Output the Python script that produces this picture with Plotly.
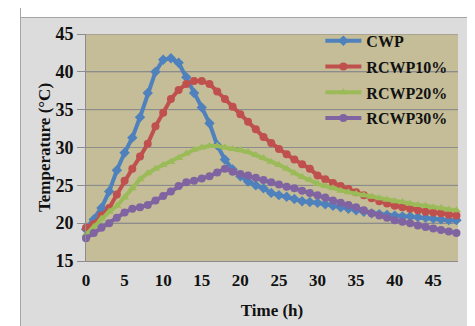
import plotly.graph_objects as go

hours = list(range(0, 49))
x_ticks = [0, 5, 10, 15, 20, 25, 30, 35, 40, 45]
y_ticks = [15, 20, 25, 30, 35, 40, 45]
x_range = [0, 48.2]

cwp = [19.2, 20.5, 22.0, 24.2, 27.0, 29.3, 31.3, 34.0, 37.2, 40.0,
       41.6, 41.8, 41.2, 39.3, 37.2, 35.3, 33.2, 30.3, 28.4, 27.1,
       26.2, 25.5, 25.0, 24.6, 24.0, 23.7, 23.5, 23.2, 22.9, 22.8,
       22.7, 22.5, 22.3, 22.1, 21.9, 21.7, 21.5, 21.3, 21.2, 21.1,
       21.0, 20.9, 20.9, 20.8, 20.7, 20.6, 20.5, 20.4, 20.4]
rcwp10 = [19.4, 19.9, 21.0, 22.0, 23.8, 25.6, 27.2, 28.8, 30.5, 32.8,
          34.6, 36.4, 37.6, 38.4, 38.8, 38.8, 38.4, 37.4, 36.4, 35.4,
          34.4, 33.4, 32.4, 31.4, 30.6, 29.8, 29.1, 28.4, 27.8, 27.2,
          26.3, 25.8, 25.3, 24.9, 24.5, 24.1, 23.7, 23.3, 22.9, 22.6,
          22.3, 22.1, 21.9, 21.7, 21.5, 21.4, 21.3, 21.1, 21.0]
rcwp20 = [18.5, 19.5, 20.6, 21.5, 22.3, 23.4, 24.6, 25.8, 26.6, 27.2,
          27.7, 28.1, 28.6, 29.2, 29.7, 30.0, 30.2, 30.2, 30.0, 29.8,
          29.7, 29.4, 29.0, 28.6, 28.1, 27.7, 27.2, 26.6, 26.1, 25.7,
          25.2, 24.9, 24.6, 24.3, 24.1, 23.9, 23.7, 23.5, 23.3, 23.1,
          22.9, 22.8, 22.6, 22.4, 22.3, 22.1, 22.0, 21.8, 21.7]
rcwp30 = [18.0, 18.7, 19.4, 20.0, 20.7, 21.4, 21.9, 22.1, 22.4, 23.0,
          23.6, 24.2, 24.9, 25.4, 25.6, 25.9, 26.2, 26.7, 27.2, 26.8,
          26.5, 26.3, 26.0, 25.7, 25.4, 25.1, 24.8, 24.6, 24.3, 24.0,
          23.7, 23.4, 23.0, 22.7, 22.4, 22.1, 21.7, 21.3, 21.0, 20.7,
          20.4, 20.2, 20.0, 19.7, 19.5, 19.3, 19.1, 18.9, 18.7]

series = [
    ("CWP", cwp, "#4F81BD", "diamond"),
    ("RCWP10%", rcwp10, "#C0504D", "circle"),
    ("RCWP20%", rcwp20, "#9BBB59", "triangle-up"),
    ("RCWP30%", rcwp30, "#8064A2", "circle"),
]

FONT = "Liberation Serif"
GRID = "#8C8C8C"

fig = go.Figure()

# horizontal gridlines at the y tick values, drawn as a background trace
gx, gy = [], []
for v in y_ticks[1:]:
    gx += [x_range[0], x_range[1], None]
    gy += [v, v, None]
fig.add_trace(go.Scatter(x=gx, y=gy, mode="lines",
                         line=dict(color=GRID, width=1),
                         hoverinfo="skip", showlegend=False))

for i, (name, vals, color, sym) in enumerate(series):
    fig.add_trace(go.Scatter(
        x=hours, y=vals, name=name, mode="lines+markers",
        line=dict(color=color, width=4),
        marker=dict(symbol=sym, size=8, color=color),
        legendgroup=f"g{i}", cliponaxis=False,
    ))

# white outer margin strips (top, left) with the gray chart-area border
fig.add_annotation(xref="paper", yref="paper", x=-0.344, y=1.0705,
                   xanchor="left", yanchor="bottom", text=" ", showarrow=False,
                   width=620, height=60, bgcolor="white",
                   bordercolor="#A6A6A6", borderwidth=1, borderpad=0)
fig.add_annotation(xref="paper", yref="paper", x=-0.1747, y=0.5,
                   xanchor="right", yanchor="middle", text=" ", showarrow=False,
                   width=60, height=520, bgcolor="white",
                   bordercolor="#A6A6A6", borderwidth=1, borderpad=0)

fig.update_layout(
    width=475, height=326,
    margin=dict(l=78, r=25, t=26, b=73),
    paper_bgcolor="#DCDCDC",
    plot_bgcolor="#C4BD97",
    font=dict(family=FONT, size=15, color="#111111"),
    showlegend=True,
    legend=dict(
        x=0.63, y=1.045, xanchor="left", yanchor="top",
        bgcolor="rgba(0,0,0,0)",
        font=dict(family=FONT, size=16, color="#111111", weight="bold"),
        tracegroupgap=2, itemwidth=36,
    ),
    xaxis=dict(
        range=x_range, tickvals=x_ticks, ticktext=[str(v) for v in x_ticks],
        showgrid=False, zeroline=False,
        showline=True, linecolor=GRID, linewidth=1,
        ticks="outside", ticklen=4, tickcolor="rgba(0,0,0,0)",
        tickfont=dict(family=FONT, size=17, weight="bold"),
        title=dict(text="Time (h)", standoff=14,
                   font=dict(family=FONT, size=17, weight="bold")),
    ),
    yaxis=dict(
        range=[15, 45], tickvals=y_ticks, ticktext=[str(v) for v in y_ticks],
        showgrid=True, gridcolor=GRID, gridwidth=1,
        zeroline=False,
        showline=True, linecolor=GRID, linewidth=1,
        ticks="outside", ticklen=8, tickcolor=GRID,
        tickfont=dict(family=FONT, size=18, weight="bold"),
        title=dict(text="Temperature (°C)", standoff=0,
                   font=dict(family=FONT, size=17, weight="bold")),
    ),
)

fig.write_html("out.html")
